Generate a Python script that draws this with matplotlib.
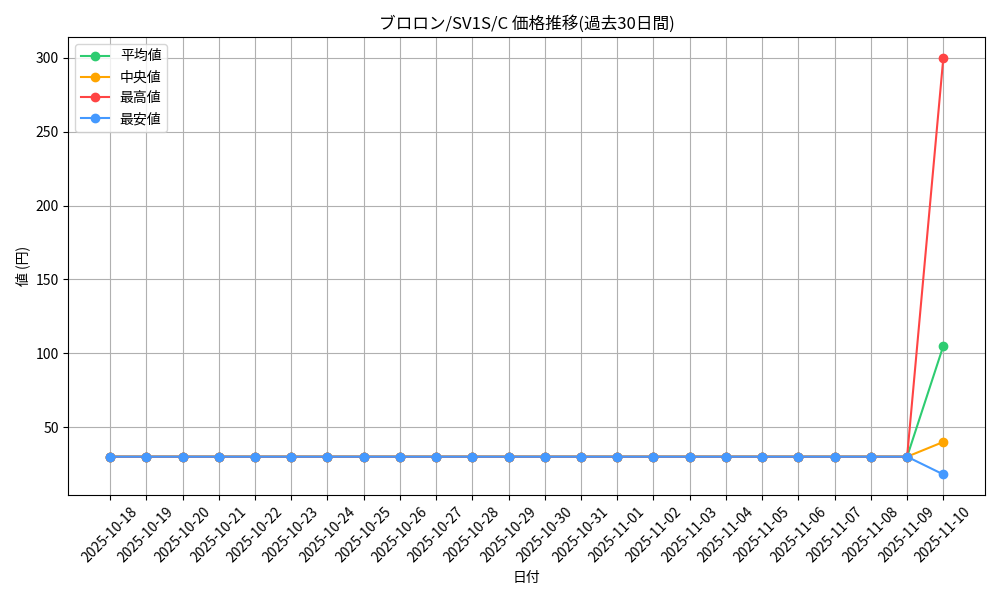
import pandas as pd
import matplotlib
matplotlib.use('Agg')
import matplotlib.pyplot as plt

plt.rcParams['font.family'] = ['Noto Sans CJK JP', 'DejaVu Sans']

dates = pd.date_range('2025-10-18', '2025-11-10').strftime('%Y-%m-%d').tolist()
n = len(dates)
avg_vals = [30] * (n - 1) + [105]
median_vals = [30] * (n - 1) + [40]
max_vals = [30] * (n - 1) + [300]
min_vals = [30] * (n - 1) + [18]

fig, ax = plt.subplots(figsize=(10, 6), dpi=100)
ax.plot(dates, avg_vals, marker='o', color='#2ecc71', label='平均値')
ax.plot(dates, median_vals, marker='o', color='#ffa500', label='中央値')
ax.plot(dates, max_vals, marker='o', color='#ff4444', label='最高値')
ax.plot(dates, min_vals, marker='o', color='#4499ff', label='最安値')

ax.set_title('ブロロン/SV1S/C 価格推移(過去30日間)')
ax.set_xlabel('日付')
ax.set_ylabel('値 (円)')
ax.grid(True)
ax.legend(loc='upper left')
plt.xticks(rotation=45)
plt.tight_layout()
plt.savefig('out.png')
